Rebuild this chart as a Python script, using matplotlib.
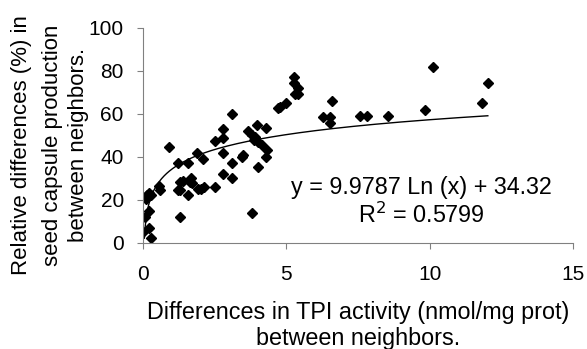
import numpy as np
import matplotlib
matplotlib.use('Agg')
import matplotlib.pyplot as plt

plt.rcParams['font.family'] = ['Liberation Sans', 'DejaVu Sans']

# Differences in TPI activity (x) vs relative differences in seed capsule production (y)
tpi_diff = [0.0, 0.2, 0.26, 0.06, 0.2, 0.08, 0.12, 0.2, 0.26, 0.55, 0.6, 0.89,
            1.2, 1.55, 1.2, 1.3, 1.3, 1.38, 1.62, 1.68, 1.72, 1.55, 1.3, 1.89,
            1.92, 2.0, 2.1, 2.12, 2.51, 2.51, 2.8, 2.8, 2.8, 2.8, 3.09, 3.09,
            3.09, 3.44, 3.5, 3.67, 3.79, 3.91, 3.85, 3.79, 3.97, 4.02, 4.14,
            3.99, 4.29, 4.31, 4.29, 4.7, 4.78, 4.99, 5.27, 5.27, 5.3, 5.42,
            5.42, 6.27, 6.53, 6.53, 6.59, 7.55, 7.81, 8.53, 9.83, 10.12,
            11.83, 12.03]
capsule_diff = [5, 7, 2.5, 12, 14.8, 20.5, 22.5, 23, 22.5, 26.5, 24.6, 44.8,
                37, 37.3, 24.6, 24.6, 28.2, 29, 28.5, 30, 28, 22.2, 12.1, 42,
                25.3, 25.3, 38.8, 26.1, 26.1, 47.6, 52.8, 48.6, 41.6, 32, 59.8, 37,
                30.3, 40.1, 40.9, 52.2, 50.2, 49.4, 47.9, 14, 54.9, 47.1, 45.5,
                35.4, 53.3, 43.2, 39.8, 62.6, 63.4, 65.3, 77.4, 74.6, 69.3, 72,
                69.3, 58.4, 58.7, 55.6, 66.2, 59.2, 59.2, 59.2, 61.9, 82,
                65.3, 74.3]

# log trendline coefficients
slope = 9.9787
intercept = 34.32
r_squared = 0.5799

fig = plt.figure(figsize=(5.87, 3.49), dpi=100)
ax = fig.add_axes([0.244, 0.304, 0.732, 0.616])

ax.plot(tpi_diff, capsule_diff, linestyle='none', marker='D', markersize=5,
        color='black')

fit_x = np.linspace(0.04, max(tpi_diff), 400)
ax.plot(fit_x, slope * np.log(fit_x) + intercept, color='black', linewidth=1.0)

ax.text(9.7, 26, f'y = {slope} Ln (x) + {intercept}', fontsize=16.8,
        ha='center', va='center')
ax.text(9.7, 12.9, f'R$^2$ = {r_squared}', fontsize=16.8, ha='center', va='center')

ax.set_xlim(0, 15)
ax.set_ylim(0, 100)
ax.set_xticks([0, 5, 10, 15])
ax.set_yticks([0, 20, 40, 60, 80, 100])
for side in ['top', 'right']:
    ax.spines[side].set_visible(False)
for side in ['left', 'bottom']:
    ax.spines[side].set_color('#808080')
ax.tick_params(colors='#808080', labelcolor='black', labelsize=15, length=4,
               direction='out')
ax.tick_params(axis='x', pad=12)
ax.tick_params(axis='y', pad=10)

fig.text(0.61, 0.106, 'Differences in TPI activity (nmol/mg prot)', fontsize=16.8,
         ha='center', va='center')
fig.text(0.61, 0.03, 'between neighbors.', fontsize=16.8, ha='center', va='center')

fig.text(0.037, 0.585, 'Relative differences (%) in', fontsize=16, rotation=90,
         ha='center', va='center')
fig.text(0.089, 0.585, 'seed capsule production', fontsize=16, rotation=90,
         ha='center', va='center')
fig.text(0.133, 0.585, 'between neighbors.', fontsize=16, rotation=90,
         ha='center', va='center')

fig.savefig('out.png', dpi=100)
